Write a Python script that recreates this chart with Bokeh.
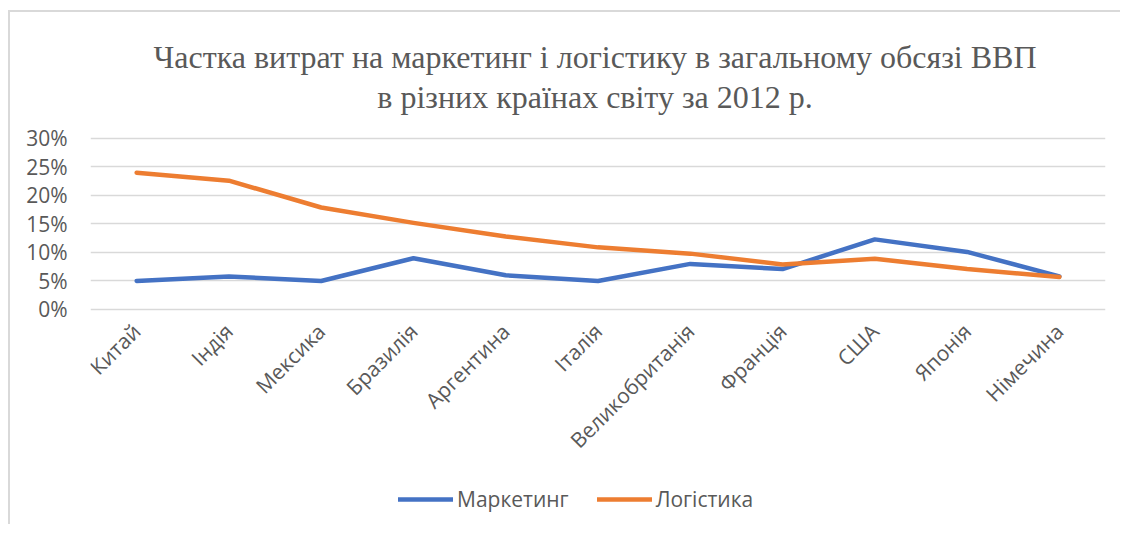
from math import pi
from bokeh.plotting import figure
from bokeh.models import (FactorRange, Range1d, FixedTicker, NumeralTickFormatter,
                          Label, Legend, LegendItem, ColumnDataSource)
from bokeh.embed import file_html
from bokeh.resources import INLINE

countries = ["Китай", "Індія", "Мексика", "Бразилія", "Аргентина", "Італія",
             "Великобританія", "Франція", "США", "Японія", "Німечина"]
marketing = [0.050, 0.058, 0.050, 0.090, 0.060, 0.050, 0.080, 0.071, 0.123, 0.101, 0.058]
logistics = [0.240, 0.226, 0.179, 0.152, 0.128, 0.109, 0.098, 0.079, 0.089, 0.071, 0.057]
y_ticks = [0.0, 0.05, 0.10, 0.15, 0.20, 0.25, 0.30]
title_lines = ["Частка витрат на маркетинг і логістику в загальному обсязі ВВП",
               "в різних країнах світу за 2012 р."]
series_names = ["Маркетинг", "Логістика"]

src = ColumnDataSource(data=dict(country=countries, marketing=marketing, logistics=logistics))

TXT = "#595959"
GRID = "#d9d9d9"
FONT = "Open Sans"
FS = "21px"

# 570 px per unit on the y scale; the frame spans title, plot, labels and legend
PX = 570
FRAME_H = 504
y_start = 0.3035 - 384 / PX
y_end = y_start + FRAME_H / PX

p = figure(frame_width=1015, frame_height=FRAME_H, output_backend="svg", toolbar_location=None,
           x_range=FactorRange(*countries, range_padding=0),
           y_range=Range1d(y_start, y_end),
           min_border_left=80, min_border_right=15, min_border_top=4, min_border_bottom=4)
p.styles = {"border-top": "2px solid #d9d9d9", "border-left": "2px solid #d9d9d9",
            "margin-top": "10px", "margin-left": "8px"}
p.outline_line_color = None
p.background_fill_color = "white"
p.border_fill_color = "white"

p.xgrid.grid_line_color = None
p.ygrid.grid_line_color = GRID
p.ygrid.grid_line_width = 1.5
p.ygrid.ticker = FixedTicker(ticks=y_ticks)

p.yaxis.ticker = FixedTicker(ticks=y_ticks)
p.yaxis.formatter = NumeralTickFormatter(format="0%")
p.yaxis.axis_line_color = None
p.yaxis.major_tick_line_color = None
p.yaxis.minor_tick_line_color = None
p.yaxis.major_tick_out = 0
p.yaxis.major_tick_in = 0
p.yaxis.major_label_standoff = 23
p.yaxis.major_label_text_font = FONT
p.yaxis.major_label_text_font_size = FS
p.yaxis.major_label_text_color = TXT

p.xaxis.fixed_location = 0
p.xaxis.axis_line_color = None
p.xaxis.major_tick_line_color = None
p.xaxis.minor_tick_line_color = None
p.xaxis.major_tick_out = 0
p.xaxis.major_tick_in = 0
p.xaxis.major_label_orientation = pi / 4
p.xaxis.major_label_standoff = 18
p.xaxis.major_label_text_font = FONT
p.xaxis.major_label_text_font_size = FS
p.xaxis.major_label_text_color = TXT

r1 = p.line("country", "marketing", source=src, line_color="#4472C4", line_width=4.5,
            line_cap="round", line_join="round")
r2 = p.line("country", "logistics", source=src, line_color="#ED7D31", line_width=4.5,
            line_cap="round", line_join="round")

# two centred title lines (baselines 81 px and 42 px above the 30% line)
for txt, rise in zip(title_lines, [81.3, 41.6]):
    p.add_layout(Label(x=len(countries) / 2, y=0.30 + rise / PX, x_offset=-3, text=txt,
                       text_align="center", text_baseline="alphabetic",
                       text_font="Liberation Serif", text_font_size="32px",
                       text_color=TXT))

legend = Legend(items=[LegendItem(label=series_names[0], renderers=[r1]),
                       LegendItem(label=series_names[1], renderers=[r2])],
                orientation="horizontal", location=(308, 7),
                glyph_width=55, glyph_height=18, label_standoff=4, spacing=28,
                padding=0, margin=0, border_line_color=None, background_fill_alpha=0,
                label_text_font=FONT, label_text_font_size=FS,
                label_text_color=TXT)
p.add_layout(legend, "center")

open("out.html", "w").write(file_html(p, INLINE))
